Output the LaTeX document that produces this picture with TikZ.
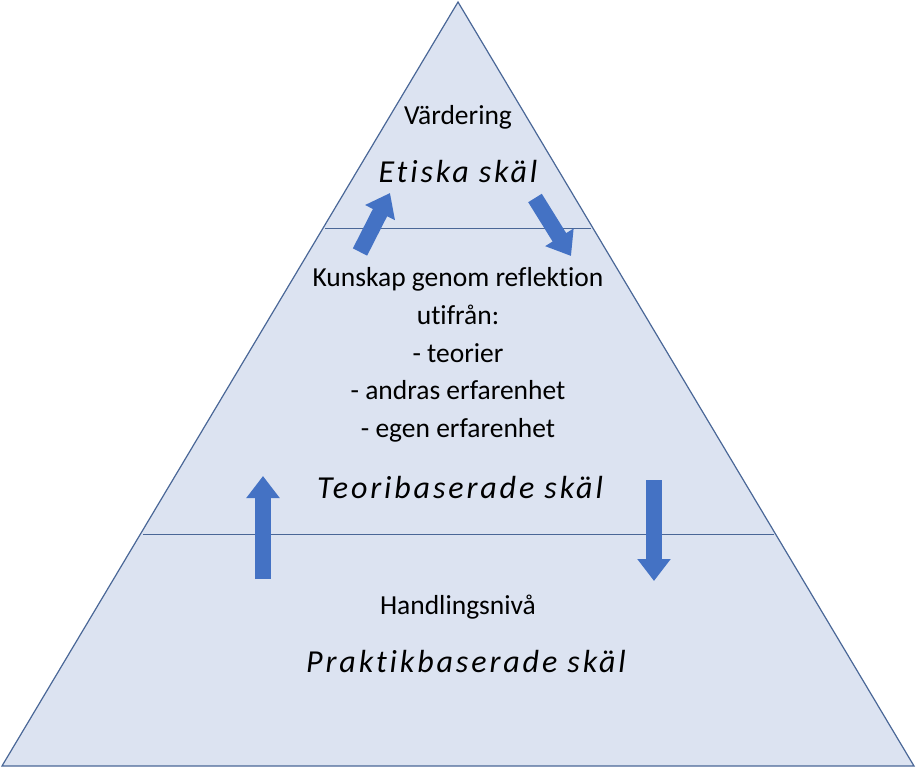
\documentclass[tikz,border=0pt]{standalone}
\usepackage{fontspec}
\setmainfont[Ligatures=NoCommon]{Carlito}
\usetikzlibrary{arrows.meta}
\definecolor{tri}{HTML}{DCE3F1}
\definecolor{edge}{HTML}{4A6797}
\definecolor{arr}{HTML}{4472C4}
\tikzset{
  lbl/.style={font=\fontsize{27.5}{37.7}\selectfont, align=center},
  big/.style={font=\fontsize{32}{36}\selectfont\itshape\addfontfeature{LetterSpace=9}},
  blk/.style={draw=arr, line width=16pt, -{Triangle[width=32pt,length=22pt]}}
}
\begin{document}
\begin{tikzpicture}[x=1pt,y=-1pt]
\useasboundingbox (0,0) rectangle (916,770);
\coordinate (A) at (458,2);
\coordinate (B) at (2,766);
\coordinate (C) at (914,766);
\draw[edge, fill=tri, line width=1.2pt] (A) -- (B) -- (C) -- cycle;
\coordinate (l1a) at (325,229); \coordinate (l1b) at (591,229);
\coordinate (l2a) at (143,534); \coordinate (l2b) at (774,534);
\draw[edge, line width=1pt] (l1a) -- (l1b);
\draw[edge, line width=1pt] (l2a) -- (l2b);
\node[lbl] (v) at (458,117) {Värdering};
\node[big] (e) at (458,172) {Etiska skäl};
\node[lbl] (k) at (458,355) {Kunskap genom reflektion\\utifrån:\\- teorier\\- andras erfarenhet\\- egen erfarenhet};
\node[big] (t) at (460,488) {Teoribaserade skäl};
\node[lbl] (h) at (458,607) {Handlingsnivå};
\node[big] (p) at (466,662) {Praktikbaserade skäl};
\coordinate (a1s) at (360,252); \coordinate (a1e) at (390,193);
\coordinate (a2s) at (535,198); \coordinate (a2e) at (571,256);
\coordinate (a3s) at (263,579); \coordinate (a3e) at (263,476);
\coordinate (a4s) at (654,480); \coordinate (a4e) at (654,581);
\draw[blk] (a1s) -- (a1e);
\draw[blk] (a2s) -- (a2e);
\draw[blk] (a3s) -- (a3e);
\draw[blk] (a4s) -- (a4e);
\end{tikzpicture}
\end{document}
